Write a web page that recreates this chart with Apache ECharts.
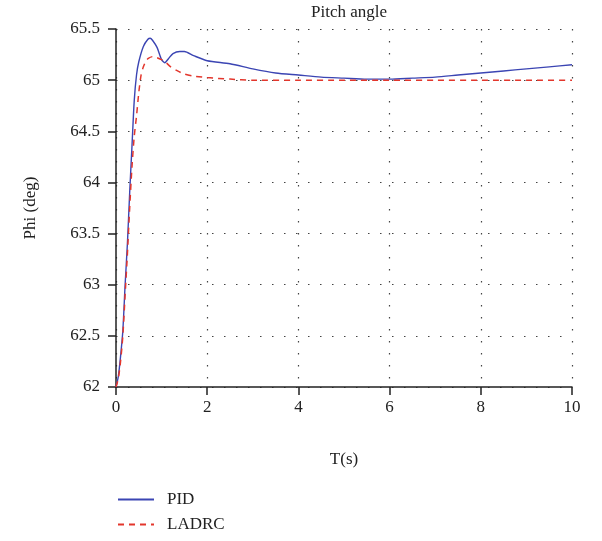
<!DOCTYPE html>
<html>
<head>
<meta charset="utf-8">
<script src="https://cdn.jsdelivr.net/npm/echarts@6/dist/echarts.min.js"></script>
<style>
  html, body { margin: 0; padding: 0; background: #fff; }
  #main { width: 602px; height: 541px; }
</style>
</head>
<body>
<div id="main"></div>
<script>
// time samples (s) and pitch angle (deg)
var pidTime = [0, 0.05, 0.1, 0.15, 0.2, 0.25, 0.3, 0.35, 0.4, 0.45, 0.5, 0.6, 0.7, 0.75, 0.8, 0.9, 1.0, 1.07, 1.15, 1.25, 1.4, 1.5, 1.7, 2.0, 2.5, 3, 3.5, 4, 4.5, 5, 5.5, 6, 6.5, 7, 7.5, 8, 8.5, 9, 9.5, 10];
var pidValue = [62, 62.1, 62.3, 62.55, 63.0, 63.4, 63.9, 64.35, 64.8, 65.05, 65.18, 65.33, 65.4, 65.41, 65.39, 65.32, 65.2, 65.17, 65.21, 65.26, 65.28, 65.28, 65.24, 65.19, 65.16, 65.11, 65.07, 65.05, 65.03, 65.02, 65.01, 65.01, 65.02, 65.03, 65.05, 65.07, 65.09, 65.11, 65.13, 65.15];

var ladrcTime = [0, 0.05, 0.1, 0.15, 0.2, 0.25, 0.3, 0.35, 0.4, 0.45, 0.5, 0.55, 0.6, 0.65, 0.7, 0.8, 0.9, 1.0, 1.1, 1.2, 1.35, 1.5, 1.7, 2.0, 2.5, 3, 4, 5, 6, 7, 8, 9, 10];
var ladrcValue = [62, 62.08, 62.25, 62.5, 62.9, 63.3, 63.75, 64.15, 64.45, 64.65, 64.88, 65.05, 65.13, 65.18, 65.21, 65.23, 65.22, 65.2, 65.17, 65.13, 65.09, 65.06, 65.04, 65.025, 65.01, 65.0, 65.0, 65.0, 65.0, 65.0, 65.0, 65.0, 65.0];

var seriesNames = ['PID', 'LADRC'];

function pairs(xs, ys) {
  var out = [];
  for (var i = 0; i < xs.length; i++) {
    out.push([xs[i], ys[i]]);
  }
  return out;
}

var font = 'Liberation Serif';
var dotted = { color: '#444', width: 1.2, type: [1.5, 10.5] };

var option = {
  backgroundColor: '#fff',
  animation: false,
  textStyle: { fontFamily: font },
  title: {
    text: 'Pitch angle',
    left: 344,
    textAlign: 'center',
    top: -1,
    textStyle: { fontFamily: font, fontSize: 17, fontWeight: 'normal', color: '#222' }
  },
  grid: { left: 116, right: 30, top: 29, bottom: 154 },
  legend: {
    orient: 'vertical',
    left: 112,
    top: 486,
    itemWidth: 36,
    itemHeight: 14,
    itemGap: 8,
    data: seriesNames,
    itemStyle: { opacity: 0 },
    textStyle: { fontFamily: font, fontSize: 17, color: '#222', padding: [0, 0, 0, 8] }
  },
  xAxis: {
    type: 'value',
    min: 0,
    max: 10,
    interval: 2,
    name: 'T(s)',
    nameLocation: 'middle',
    nameGap: 64,
    nameTextStyle: { fontFamily: font, fontSize: 17, color: '#222' },
    axisLine: { lineStyle: { color: '#222', width: 1.5 } },
    axisTick: { length: 8, lineStyle: { color: '#222', width: 1.5 } },
    axisLabel: { fontFamily: font, fontSize: 17, color: '#222', margin: 12 },
    splitLine: { show: true, lineStyle: dotted }
  },
  yAxis: {
    type: 'value',
    min: 62,
    max: 65.5,
    interval: 0.5,
    name: 'Phi (deg)',
    nameLocation: 'middle',
    nameGap: 77,
    nameTextStyle: { fontFamily: font, fontSize: 17, color: '#222' },
    axisLine: { show: true, lineStyle: { color: '#222', width: 1.5 } },
    axisTick: { show: true, length: 8, lineStyle: { color: '#222', width: 1.5 } },
    axisLabel: { fontFamily: font, fontSize: 17, color: '#222', margin: 16 },
    splitLine: { show: true, lineStyle: dotted }
  },
  series: [
    {
      name: seriesNames[0],
      type: 'line',
      data: pairs(pidTime, pidValue),
      smooth: 0.25,
      symbol: 'none',
      color: '#3b45b3',
      lineStyle: { color: '#3b45b3', width: 1.4 },
      z: 3
    },
    {
      name: seriesNames[1],
      type: 'line',
      data: pairs(ladrcTime, ladrcValue),
      smooth: 0.25,
      symbol: 'none',
      color: '#e3362c',
      lineStyle: { color: '#e3362c', width: 1.5, type: [6, 5] },
      z: 4
    }
  ]
};

var myChart = echarts.init(document.getElementById('main'));
myChart.setOption(option);
</script>
</body>
</html>
